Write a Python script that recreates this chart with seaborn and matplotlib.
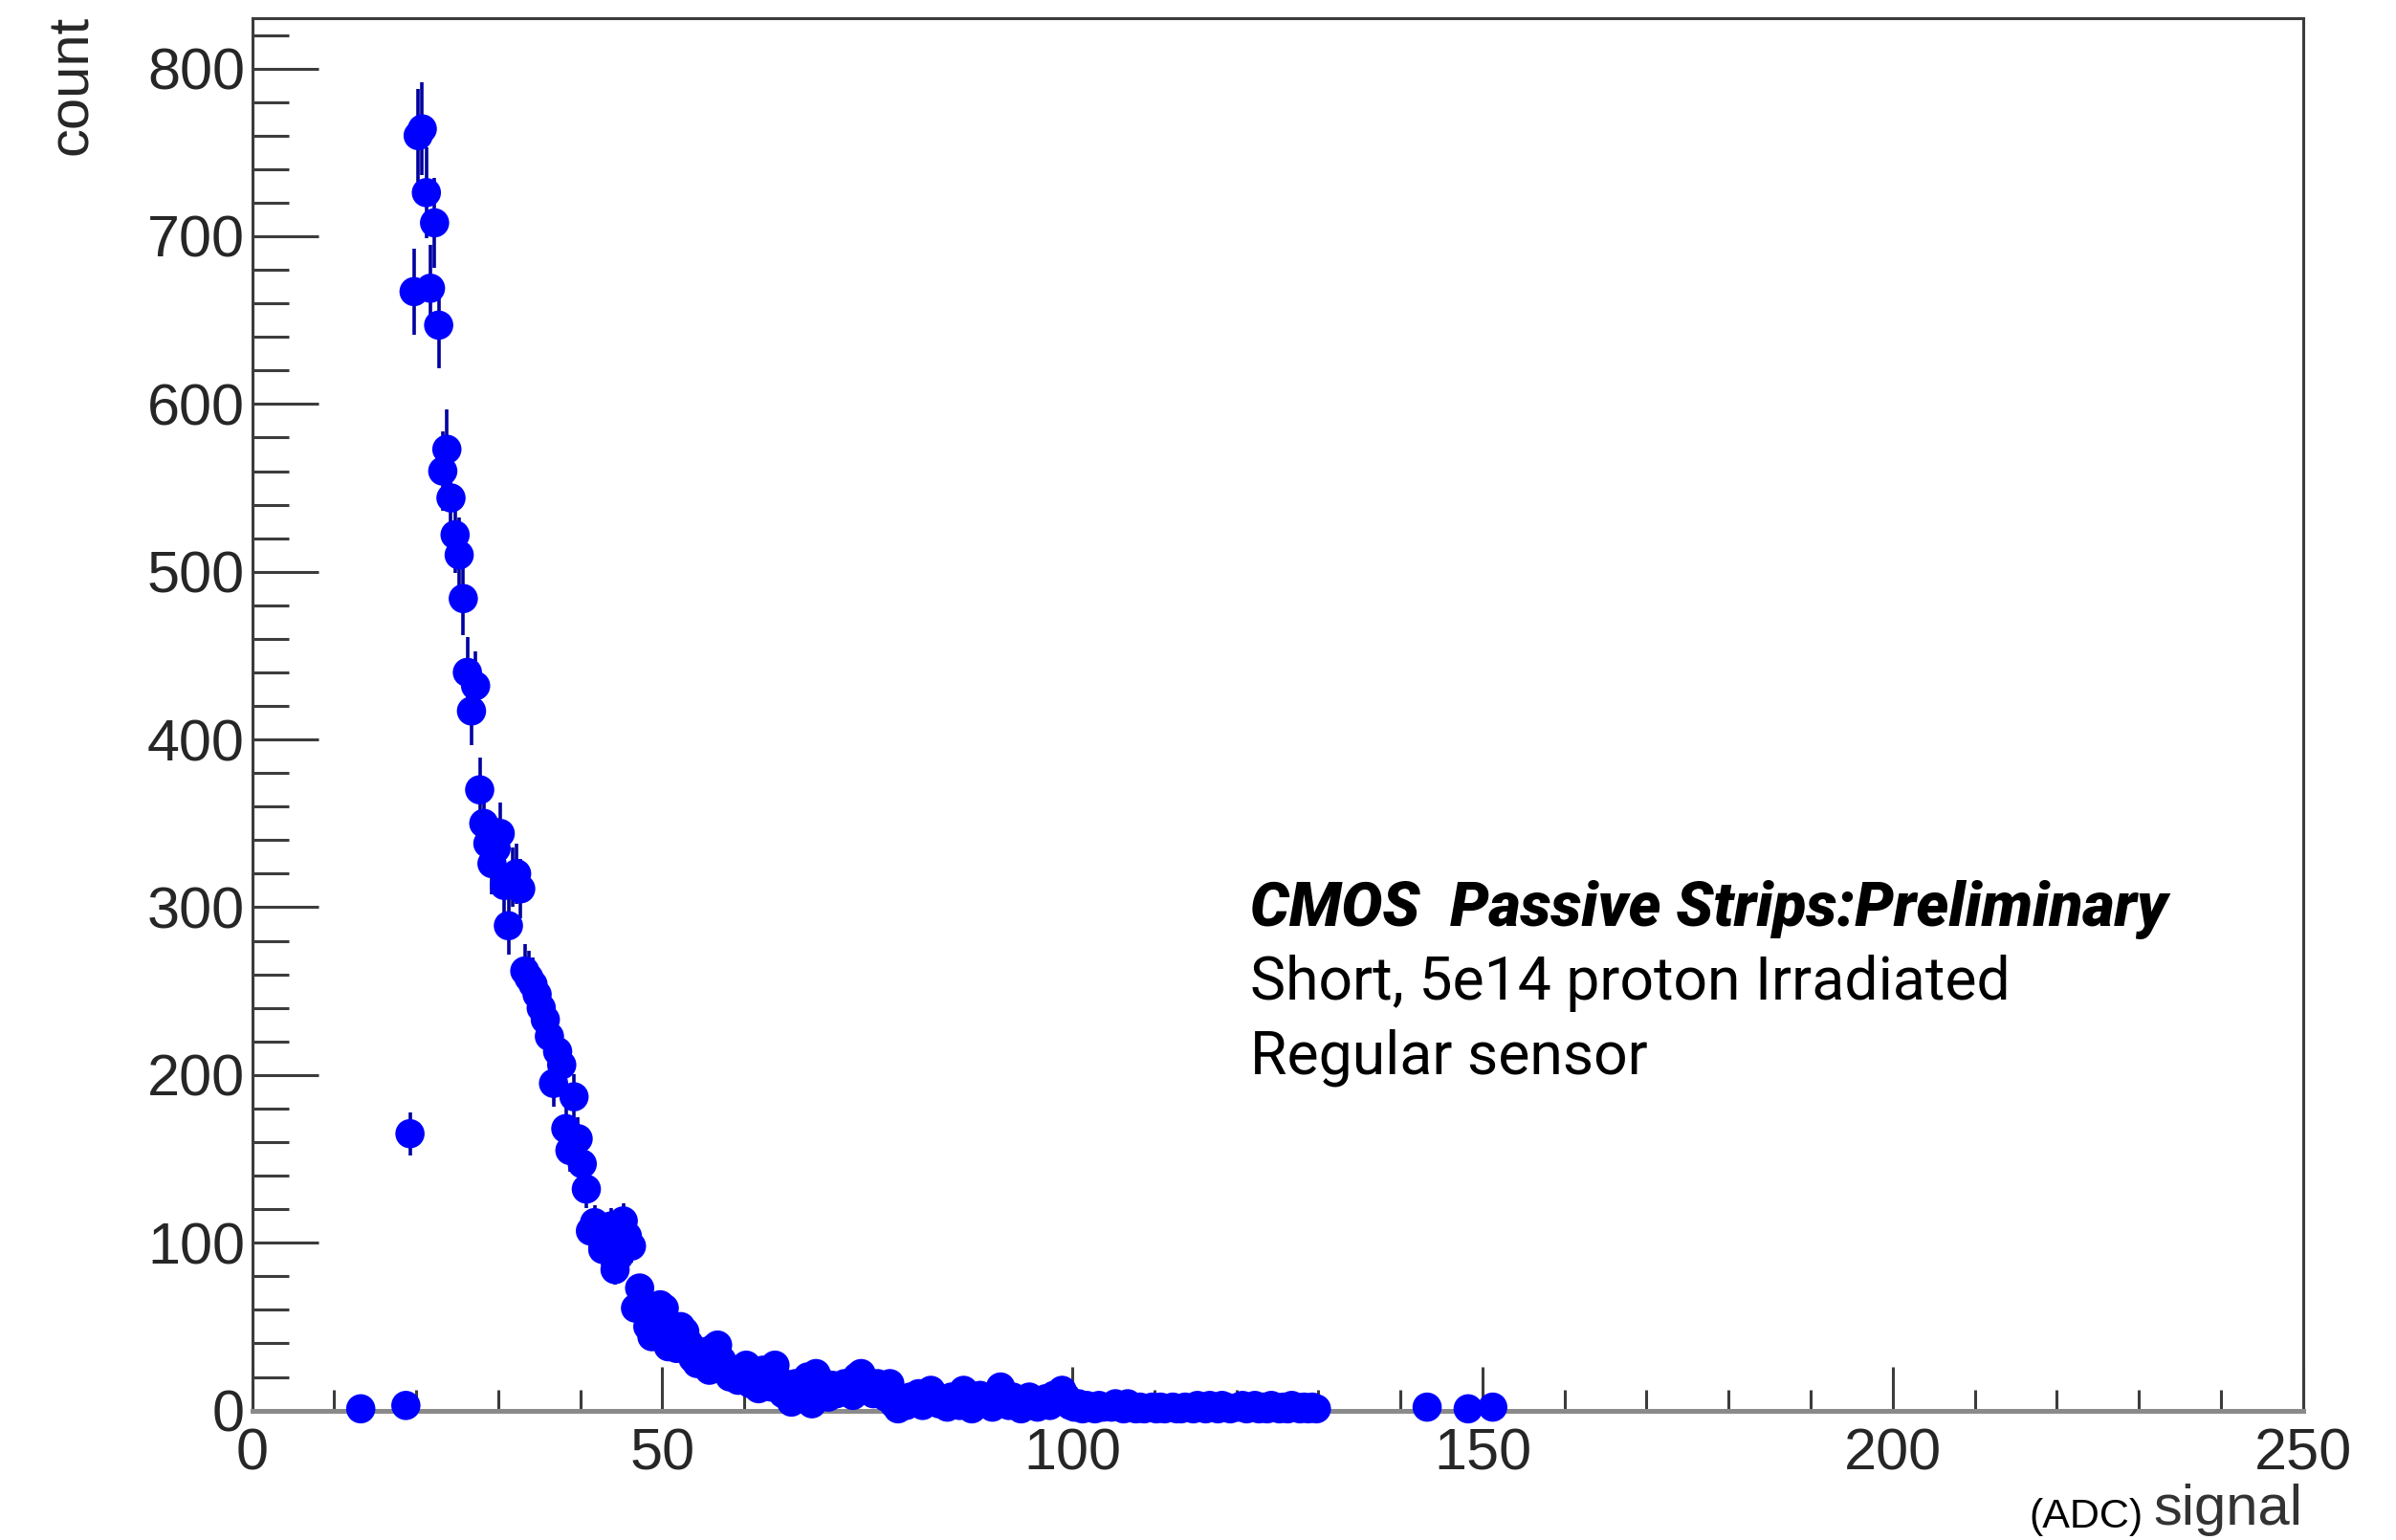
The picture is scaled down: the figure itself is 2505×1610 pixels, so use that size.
import numpy as np
import pandas as pd
import matplotlib
matplotlib.use("Agg")
import matplotlib.pyplot as plt
import seaborn as sns
from matplotlib.ticker import MultipleLocator

sns.set_theme(style="white")
plt.rcParams["font.family"] = ["Liberation Sans", "DejaVu Sans"]

# Histogram of cluster signal (ADC), 0.5-wide bins; each segment gives the
# centre of its first bin and the bin contents that follow it.
BIN_WIDTH = 0.5

threshold_start = 13.25
threshold_counts = [1, 0, 0, 0, 0, 0, 0, 0, 0, 0, 0, 3,
                    165, 667, 760, 764, 726, 669, 708, 647, 560, 573, 544, 522]

falloff_start = 25.25
falloff_counts = [510, 484, 440, 417, 432, 370, 350, 338, 326, 335,
                  344, 313, 289, 318, 320, 311, 262, 258, 254, 248,
                  240, 233, 223, 195, 214, 206, 168, 155, 187, 162,
                  147, 132, 107, 112, 108, 96, 103, 110, 84, 92,
                  113, 104, 98, 61, 73, 64, 50, 44, 57, 63,
                  61, 38]

tail_start = 51.25
tail_counts = [45, 37, 50, 47, 40, 31, 28, 35, 30, 24,
               37, 39, 30, 26, 20, 22, 18, 25, 27, 16,
               21, 13, 24, 20, 14, 27, 18, 10, 12, 5,
               16, 9, 14, 20, 4, 22, 18, 12, 8, 15,
               10, 12, 16, 12, 9, 20, 22, 18, 14, 10,
               16, 12, 8, 16, 4, 1, 6, 3]

far_start = 80.25
far_counts = [8, 5, 10, 3, 7, 12, 9, 4, 6, 2,
              8, 5, 3, 12, 7, 1, 6, 9, 4, 7,
              2, 10, 14, 6, 3, 8, 5, 1, 6, 8,
              4, 2, 5, 7, 3, 9, 6, 12, 8, 3,
              2, 4, 1, 3, 2, 1, 3, 2, 0, 2,
              4, 3, 1, 4, 2, 1, 2, 1, 0, 2,
              1, 2, 1, 0, 2, 1, 1, 2, 0, 1,
              3, 2, 1, 3, 2, 1, 3, 2, 1, 0,
              2, 3, 1, 2, 3, 1, 2, 1, 3, 2,
              1, 2, 1, 3, 2, 1, 2, 1, 2, 1]

late_signal = [143.25, 148.25, 151.25]
late_counts = [2, 1, 2]

x_ticks = [0, 50, 100, 150, 200, 250]
y_ticks = [0, 100, 200, 300, 400, 500, 600, 700, 800]

parts = []
for start, counts in [(threshold_start, threshold_counts),
                      (falloff_start, falloff_counts),
                      (tail_start, tail_counts),
                      (far_start, far_counts)]:
    centres = start + BIN_WIDTH * np.arange(len(counts))
    parts.append(pd.DataFrame({"signal": centres, "count": counts}))
parts.append(pd.DataFrame({"signal": late_signal, "count": late_counts}))
hist = pd.concat(parts, ignore_index=True)
hist = hist[hist["count"] > 0].reset_index(drop=True)
hist["err"] = np.sqrt(hist["count"])

fig = plt.figure(figsize=(25.05, 16.10), dpi=100)
ax = fig.add_axes([0.1052, 0.0841, 0.8559, 0.9041])

ax.vlines(hist["signal"], hist["count"] - hist["err"], hist["count"] + hist["err"],
          color="#0000a0", linewidth=2.6, zorder=2, clip_on=False)
sns.scatterplot(data=hist, x="signal", y="count", ax=ax, color="#0000ff",
                s=22 ** 2, linewidth=0, edgecolor="none", zorder=3,
                legend=False, clip_on=False)

ax.set_xlim(0, 250)
ax.set_ylim(0, 830)
ax.set_xlabel("")
ax.set_ylabel("")
ax.set_xticks(x_ticks)
ax.set_yticks(y_ticks)
ax.xaxis.set_minor_locator(MultipleLocator(10))
ax.yaxis.set_minor_locator(MultipleLocator(20))

tick_col = "#3c3c3c"
label_col = "#262626"
ax.tick_params(axis="x", which="both", direction="in", bottom=True, top=False,
               color=tick_col, width=2.2, labelsize=44, labelcolor=label_col, pad=13)
ax.tick_params(axis="x", which="major", length=33)
ax.tick_params(axis="x", which="minor", length=16)
ax.tick_params(axis="y", which="both", direction="in", left=True, right=False,
               color=tick_col, width=2.2, labelsize=44, labelcolor=label_col, pad=5.5)
ax.tick_params(axis="y", which="major", length=50)
ax.tick_params(axis="y", which="minor", length=27)

for side in ["left", "top", "right"]:
    ax.spines[side].set_color("#3c3c3c")
    ax.spines[side].set_linewidth(2.2)
ax.spines["bottom"].set_color("#8a8a8a")
ax.spines["bottom"].set_linewidth(3.6)

W, H = 2505.0, 1610.0
fig.text(75 / W, 1 - 16 / H, "count", rotation=90, ha="center", va="top",
         fontsize=43, color=label_col)
fig.text(2407.6 / W, 1 - 1594 / H, "signal", ha="right", va="baseline",
         fontsize=43, color="#333333")
fig.text(2240 / W, 1 - 1597 / H, "(ADC)", ha="right", va="baseline",
         fontsize=31, color="black")

note_font = ["Roboto", "DejaVu Sans"]
fig.text(1307 / W, 1 - 968 / H, "CMOS  Passive Strips:Preliminary",
         ha="left", va="baseline", fontsize=46.2, fontweight="black",
         fontstyle="italic", family=note_font, color="black")
fig.text(1307 / W, 1 - 1045 / H, "Short, 5e14 proton Irradiated",
         ha="left", va="baseline", fontsize=45, family=note_font, color="black")
fig.text(1307 / W, 1 - 1122 / H, "Regular sensor",
         ha="left", va="baseline", fontsize=45, family=note_font, color="black")

fig.savefig("out.png", dpi=100)
